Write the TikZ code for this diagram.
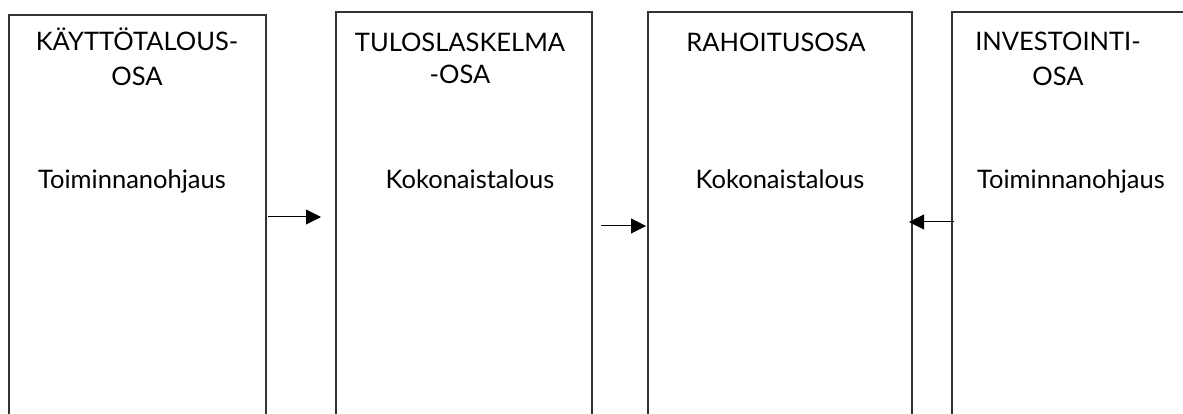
\documentclass[tikz,border=0pt]{standalone}
\usepackage{fontspec}
\setmainfont{Lato}
\usetikzlibrary{arrows.meta}
\begin{document}
\begin{tikzpicture}[x=1pt,y=-1pt,
  boxline/.style={draw=black!80,line width=1.3pt},
  arr/.style={draw=black,line width=1pt,-{Triangle[length=15pt,width=15pt]}},
  lbl/.style={anchor=base,inner sep=0pt,font=\fontsize{25.5}{30}\selectfont}]
\useasboundingbox (0,0) rectangle (1183,414);
% box areas
\coordinate (b1nw) at (9,15);   \coordinate (b1ne) at (266,15);
\coordinate (b1sw) at (9,414);  \coordinate (b1se) at (266,414);
\coordinate (b2nw) at (336,12); \coordinate (b2ne) at (592,12);
\coordinate (b2sw) at (336,414);\coordinate (b2se) at (592,414);
\coordinate (b3nw) at (648,12); \coordinate (b3ne) at (912,12);
\coordinate (b3sw) at (648,414);\coordinate (b3se) at (912,414);
\coordinate (b4nw) at (952,12); \coordinate (b4ne) at (1183,12);
\coordinate (b4sw) at (952,414);
\draw[boxline] (b1sw) -- (b1nw) -- (b1ne) -- (b1se);
\draw[boxline] (b2sw) -- (b2nw) -- (b2ne) -- (b2se);
\draw[boxline] (b3sw) -- (b3nw) -- (b3ne) -- (b3se);
\draw[boxline] (b4sw) -- (b4nw) -- (b4ne);
% texts
\node[lbl] (t1a) at (137,51) {KÄYTTÖTALOUS-};
\node[lbl] (t1b) at (137,86) {OSA};
\node[lbl] (t1c) at (132,189) {Toiminnanohjaus};
\node[lbl] (t2a) at (460,52) {TULOSLASKELMA};
\node[lbl] (t2b) at (460,84) {-OSA};
\node[lbl] (t2c) at (470,189) {Kokonaistalous};
\node[lbl] (t3a) at (776,52) {RAHOITUSOSA};
\node[lbl] (t3c) at (780,189) {Kokonaistalous};
\node[lbl] (t4a) at (1058,51) {INVESTOINTI-};
\node[lbl] (t4b) at (1058,86) {OSA};
\node[lbl] (t4c) at (1071,189) {Toiminnanohjaus};
% arrows
\coordinate (a1s) at (268,217); \coordinate (a1e) at (321,217);
\coordinate (a2s) at (601,226); \coordinate (a2e) at (646,226);
\coordinate (a3s) at (954,222); \coordinate (a3e) at (909,222);
\draw[arr] (a1s) -- (a1e);
\draw[arr] (a2s) -- (a2e);
\draw[arr] (a3s) -- (a3e);
\end{tikzpicture}
\end{document}
